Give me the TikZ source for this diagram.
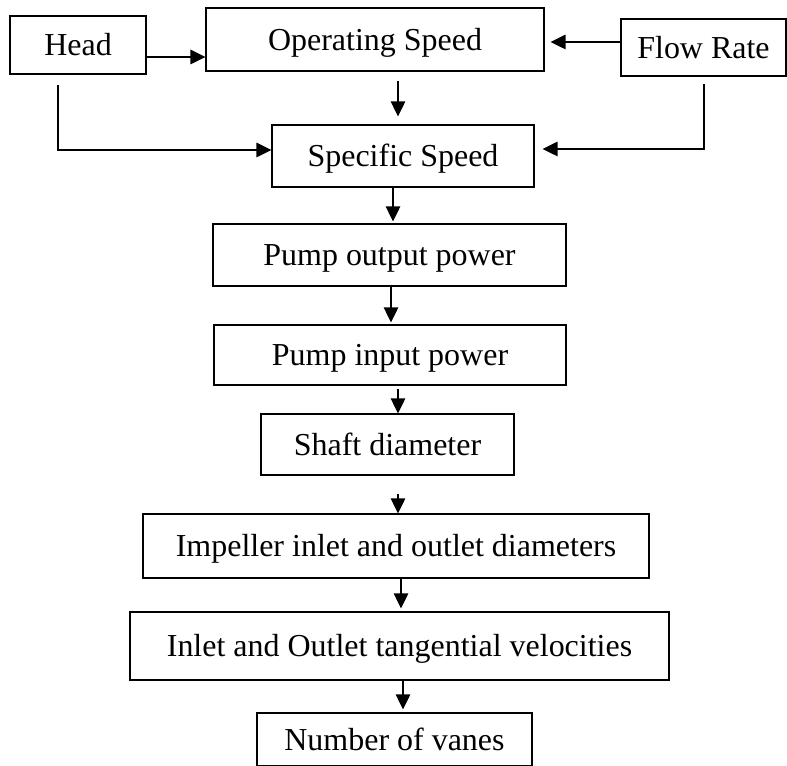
\documentclass[tikz,border=0pt]{standalone}
\usepackage{fontspec}
\setmainfont{Liberation Serif}
\usepackage{tikz}
\usetikzlibrary{arrows.meta}

\begin{document}
\begin{tikzpicture}[
    x=0.02cm, y=-0.02cm,
    every node/.style={font=\fontsize{18.2}{22}\selectfont},
    stage/.style={
        draw=black,
        line width=0.7pt,
        align=center,
        inner sep=0pt,
        text height=12pt,
        text depth=0pt
    },
    flowline/.style={
        -{Triangle[length=0.3cm, width=0.29cm]},
        line width=0.7pt
    }
]

\useasboundingbox (0,0) rectangle (787,766);

% ==========================================================
% TOP ROW
% ==========================================================

\node[
    stage,
    minimum width=2.72cm,
    minimum height=1.16cm
] (head) at (78,45)
{Head};

\node[
    stage,
    minimum width=6.76cm,
    minimum height=1.26cm
] (opspeed) at (375,39.5)
{Operating Speed};

\node[
    stage,
    minimum width=3.30cm,
    minimum height=1.14cm
] (flowrate) at (703.5,47.5)
{Flow Rate};

% ==========================================================
% MAIN CHAIN
% ==========================================================

\node[
    stage,
    minimum width=5.24cm,
    minimum height=1.24cm
] (specific) at (403,156)
{Specific Speed};

\node[
    stage,
    minimum width=7.06cm,
    minimum height=1.24cm
] (outpower) at (389.5,255)
{Pump output power};

\node[
    stage,
    minimum width=7.04cm,
    minimum height=1.20cm
] (inpower) at (390,355)
{Pump input power};

\node[
    stage,
    minimum width=5.06cm,
    minimum height=1.22cm
] (shaft) at (387.5,444.5)
{Shaft diameter};

\node[
    stage,
    minimum width=10.12cm,
    minimum height=1.28cm
] (impeller) at (396,546)
{Impeller inlet and outlet diameters};

\node[
    stage,
    minimum width=10.78cm,
    minimum height=1.36cm
] (tangential) at (399.5,646)
{Inlet and Outlet tangential velocities};

\node[
    stage,
    minimum width=5.50cm,
    minimum height=1.06cm
] (vanes) at (394.5,739.5)
{Number of vanes};

% ==========================================================
% CONNECTIONS
% ==========================================================

\draw[flowline]
(head.east |- 0,57) -- (opspeed.west |- 0,57);

\draw[flowline, shorten >=0.12cm]
(flowrate.west |- 0,42) -- (opspeed.east |- 0,42);

\draw[flowline, shorten <=0.18cm, shorten >=0.16cm]
(opspeed.south -| 398,0) -- (specific.north -| 398,0);

\draw[flowline, shorten <=0.2cm]
(head.south -| 58,0) |- (specific.west |- 0,150);

\draw[flowline, shorten <=0.14cm, shorten >=0.16cm]
(flowrate.south -| 704,0) |- (specific.east |- 0,149);

\draw[flowline, shorten >=0.04cm]
(specific.south -| 393,0) -- (outpower.north -| 393,0);

\draw[flowline, shorten >=0.04cm]
(outpower.south -| 391,0) -- (inpower.north -| 391,0);

\draw[flowline, shorten <=0.06cm]
(inpower.south -| 398,0) -- (shaft.north -| 398,0);

\draw[flowline, shorten <=0.36cm]
(shaft.south -| 398,0) -- (impeller.north -| 398,0);

\draw[flowline, shorten >=0.06cm]
(impeller.south -| 401,0) -- (tangential.north -| 401,0);

\draw[flowline, shorten >=0.06cm]
(tangential.south -| 403,0) -- (vanes.north -| 403,0);

\end{tikzpicture}
\end{document}
